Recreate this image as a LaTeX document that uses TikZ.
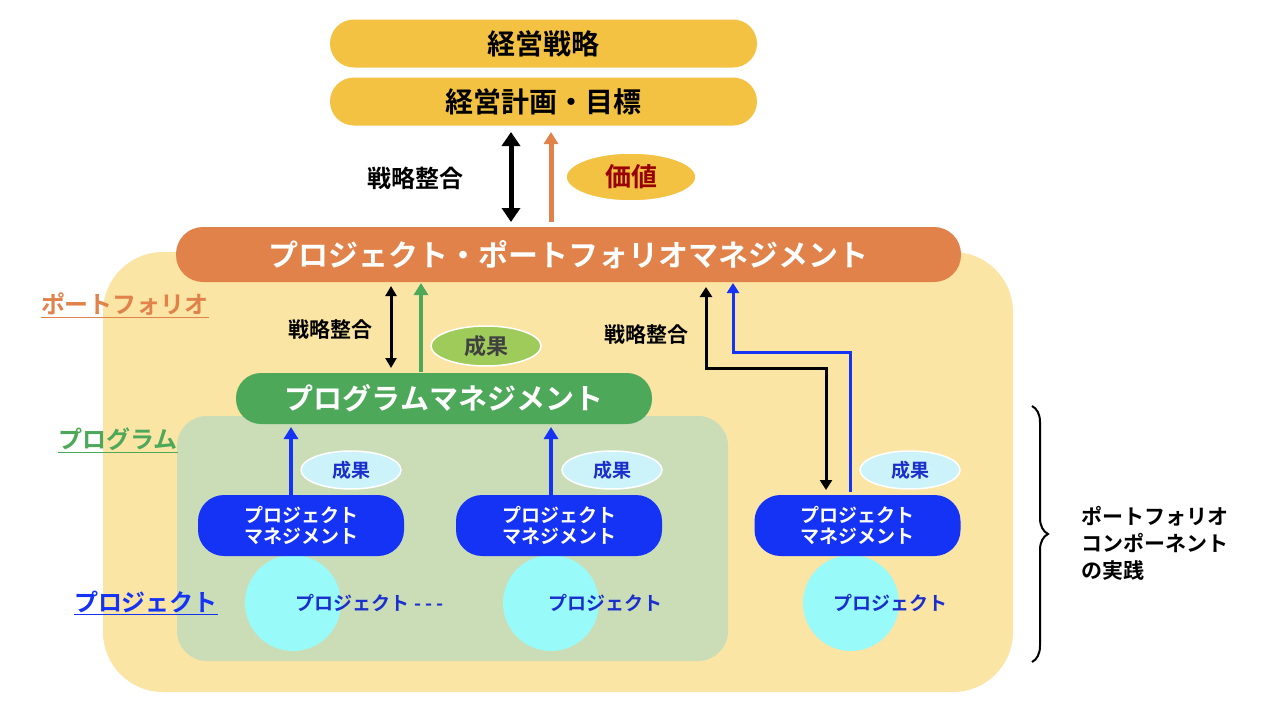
\documentclass[tikz,border=0pt]{standalone}
\usepackage{fontspec}
\setmainfont{Noto Sans CJK JP}[BoldFont={Noto Sans CJK JP Bold}]
\usetikzlibrary{arrows.meta,decorations.pathreplacing,shapes.geometric}
\definecolor{gold}{HTML}{F4C242}
\definecolor{orng}{HTML}{E0824A}
\definecolor{pf}{HTML}{FBE5A5}
\definecolor{grn}{HTML}{4EA85A}
\definecolor{pg}{HTML}{CADDB7}
\definecolor{lgrn}{HTML}{9ECB5A}
\definecolor{blu}{HTML}{1533F5}
\definecolor{lcy}{HTML}{CCF2FA}
\definecolor{cy}{HTML}{99FAFA}
\definecolor{dblu}{HTML}{1A2FCC}
\begin{document}
\begin{tikzpicture}[x=1pt,y=-1pt,font=\bfseries,
 bar/.style={rounded corners=24pt,minimum height=48pt,inner sep=0pt},
 ell/.style={ellipse,draw=white,line width=1.5pt,inner sep=0pt},
 pm/.style={fill=blu,rounded corners=26pt,minimum width=206pt,minimum height=61pt,text=white,font=\bfseries\fontsize{19}{21}\selectfont,align=center,inner sep=0pt},
 circ/.style={circle,fill=cy,minimum size=96pt,inner sep=0pt},
 arr/.style={line width=4pt,-{Triangle[length=12pt,width=14pt]}},
 darr/.style={line width=5pt,{Triangle[length=14pt,width=18pt]}-{Triangle[length=14pt,width=18pt]}},
 sarr/.style={line width=3pt,{Triangle[length=10pt,width=11pt]}-{Triangle[length=10pt,width=11pt]}},
 ul/.style={font=\bfseries\fontsize{24}{26}\selectfont}]
\useasboundingbox (0,0) rectangle (1278,712);
\fill[white] (0,0) rectangle (1278,712);
\fill[pf,rounded corners=60pt] (103,252) rectangle (1013,692);
\fill[pg,rounded corners=30pt] (177,416) rectangle (728,661);
\node[bar,fill=gold,minimum width=427pt,font=\bfseries\fontsize{28}{30}\selectfont] (s) at (543.5,43.5) {経営戦略};
\node[bar,fill=gold,minimum width=427pt,font=\bfseries\fontsize{28}{30}\selectfont] (p) at (543.5,101.5) {経営計画・目標};
\node[bar,fill=orng,minimum width=785pt,minimum height=55pt,rounded corners=27pt,text=white,font=\bfseries\fontsize{30}{32}\selectfont] (ppm) at (568.5,254.5) {プロジェクト・ポートフォリオマネジメント};
\node[bar,fill=grn,minimum width=416pt,minimum height=51pt,rounded corners=25pt,text=white,font=\bfseries\fontsize{29}{31}\selectfont] (pgm) at (444,398.5) {プログラムマネジメント};
\coordinate (a1) at (511,132); \coordinate (a2) at (511,222);
\draw[darr] (a1) -- (a2);
\coordinate (o1) at (551,222); \coordinate (o2) at (551,132);
\draw[arr,orng,line width=5pt] (o1) -- (o2);
\node[font=\bfseries\fontsize{24}{26}\selectfont] (l1) at (415,178) {戦略整合};
\node[ell,fill=gold,minimum width=130pt,minimum height=48pt,text=red!60!black,font=\bfseries\fontsize{26}{28}\selectfont] (v) at (631,177) {価値};
\node[ul,text=orng] (tp) at (125,305) {\underline{ポートフォリオ}};
\node[ul,text=grn] (tg) at (118,440) {\underline{プログラム}};
\node[ul,text=blu] (tj) at (146,603) {\underline{プロジェクト}};
\coordinate (b1) at (391,286); \coordinate (b2) at (391,368);
\draw[sarr] (b1) -- (b2);
\coordinate (g1) at (421,372); \coordinate (g2) at (421,283);
\draw[arr,grn] (g1) -- (g2);
\node[font=\bfseries\fontsize{21}{23}\selectfont] (l2) at (330,330) {戦略整合};
\node[ell,fill=lgrn,minimum width=110pt,minimum height=40pt,font=\bfseries\fontsize{22}{24}\selectfont,text=black!75] (r1) at (486,346) {成果};
\foreach \n/\x in {c1/293,c2/551,c3/851}{\node[circ] (\n) at (\x,603) {};}
\node[pm] (m1) at (301,525.5) {プロジェクト\\マネジメント};
\node[pm] (m2) at (559,525.5) {プロジェクト\\マネジメント};
\node[pm] (m3) at (857.5,525.5) {プロジェクト\\マネジメント};
\foreach \n/\x in {e1/351,e2/612,e3/910}{\node[ell,fill=lcy,minimum width=100pt,minimum height=38pt,text=dblu,font=\bfseries\fontsize{19}{21}\selectfont] (\n) at (\x,470) {成果};}
\node[text=dblu,font=\bfseries\fontsize{19}{21}\selectfont] (t1) at (370,603) {プロジェクト - - -};
\node[text=dblu,font=\bfseries\fontsize{19}{21}\selectfont] (t2) at (605,603) {プロジェクト};
\node[text=dblu,font=\bfseries\fontsize{19}{21}\selectfont] (t3) at (890,603) {プロジェクト};
\draw[arr,blu] (m1.north -| 291,0) -- (291,427);
\draw[arr,blu] (m2.north -| 551,0) -- (551,427);
\coordinate (k1) at (826,490); \coordinate (k2) at (706,287);
\draw[line width=3pt,{Triangle[length=10pt,width=12pt]}-{Triangle[length=10pt,width=12pt]}] (k1) -- (826,368) -- (706,368) -- (k2);
\coordinate (q1) at (850,492); \coordinate (q2) at (733,283);
\draw[line width=3pt,blu,-{Triangle[length=10pt,width=12pt]}] (q1) -- (850,352) -- (733,352) -- (q2);
\node[font=\bfseries\fontsize{21}{23}\selectfont] (l3) at (646,335) {戦略整合};
\draw[line width=2pt,decorate,decoration={brace,amplitude=16pt}] (1032,406) coordinate (br1) -- (1032,662) coordinate (br2);
\node[anchor=west,align=left,font=\bfseries\fontsize{21}{27}\selectfont] (cm) at (1078,543) {ポートフォリオ\\コンポーネント\\の実践};
\end{tikzpicture}
\end{document}
